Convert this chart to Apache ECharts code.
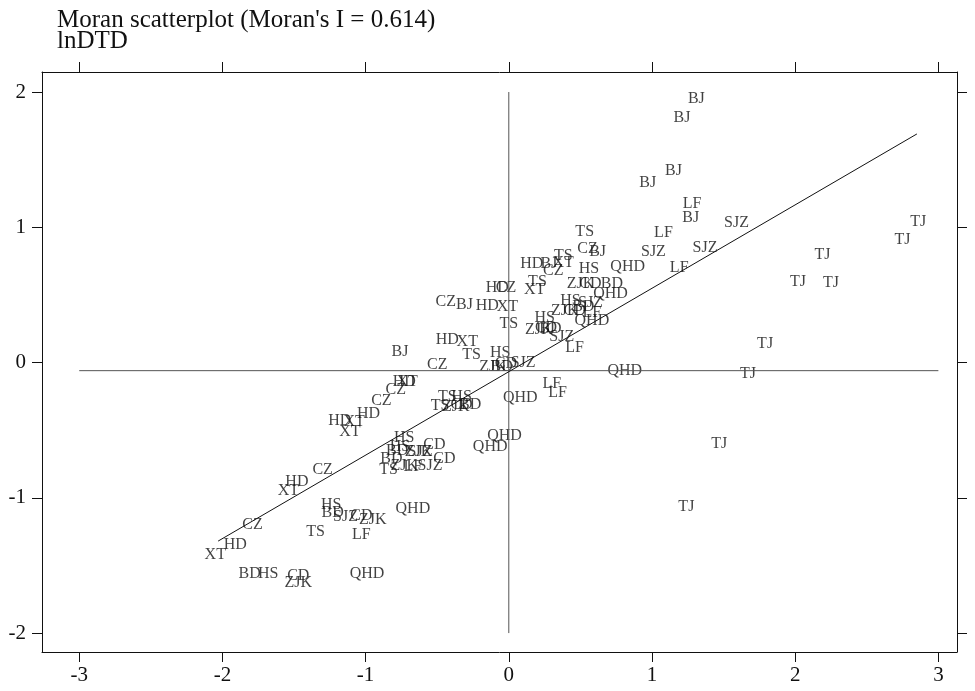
<!DOCTYPE html>
<html>
<head>
<meta charset="utf-8">
<script src="https://cdn.jsdelivr.net/npm/echarts@6/dist/echarts.min.js"></script>
<style>
html,body{margin:0;padding:0;background:#fff;}
#chart{width:975px;height:691px;}
</style>
</head>
<body>
<div id="chart"></div>
<script>
// Moran scatterplot: [standardized z, spatial lag Wz] per city, 9 years each
const BJ  = [[1.31,1.95],[1.21,1.81],[1.15,1.42],[0.97,1.33],[1.27,1.07],[0.62,0.82],[0.28,0.73],[-0.31,0.43],[-0.76,0.08]];
const TJ  = [[2.86,1.04],[2.75,0.91],[2.19,0.80],[2.02,0.60],[2.25,0.59],[1.79,0.14],[1.67,-0.08],[1.47,-0.60],[1.24,-1.07]];
const SJZ = [[1.59,1.03],[1.37,0.85],[1.01,0.82],[0.57,0.44],[0.37,0.19],[0.10,0.00],[-0.62,-0.66],[-0.55,-0.76],[-1.14,-1.14]];
const TS  = [[0.53,0.97],[0.38,0.79],[0.20,0.60],[0.00,0.29],[-0.26,0.06],[-0.43,-0.25],[-0.48,-0.32],[-0.84,-0.79],[-1.35,-1.25]];
const QHD = [[0.83,0.71],[0.71,0.51],[0.58,0.31],[0.81,-0.06],[0.08,-0.26],[-0.03,-0.54],[-0.13,-0.62],[-0.67,-1.08],[-0.99,-1.56]];
const HD  = [[0.16,0.73],[-0.08,0.55],[-0.15,0.42],[-0.43,0.17],[-0.73,-0.14],[-0.98,-0.38],[-1.18,-0.43],[-1.48,-0.88],[-1.91,-1.35]];
const XT  = [[0.38,0.74],[0.18,0.54],[-0.01,0.41],[-0.29,0.15],[-0.71,-0.14],[-1.08,-0.44],[-1.11,-0.51],[-1.54,-0.95],[-2.05,-1.42]];
const BD  = [[0.72,0.58],[0.52,0.41],[0.29,0.25],[-0.05,-0.03],[-0.27,-0.31],[-0.78,-0.65],[-0.82,-0.71],[-1.23,-1.11],[-1.81,-1.56]];
const ZJK = [[0.50,0.58],[0.39,0.38],[0.21,0.24],[-0.11,-0.03],[-0.37,-0.33],[-0.63,-0.66],[-0.73,-0.76],[-0.95,-1.16],[-1.47,-1.63]];
const CD  = [[0.57,0.58],[0.46,0.38],[0.26,0.26],[-0.02,-0.01],[-0.33,-0.31],[-0.52,-0.61],[-0.45,-0.71],[-1.03,-1.13],[-1.47,-1.58]];
const LF  = [[1.28,1.17],[1.08,0.96],[1.19,0.70],[0.58,0.37],[0.46,0.11],[0.30,-0.16],[0.34,-0.22],[-0.67,-0.77],[-1.03,-1.27]];
const CZ  = [[0.55,0.84],[0.31,0.68],[-0.02,0.55],[-0.44,0.45],[-0.50,-0.02],[-0.79,-0.20],[-0.89,-0.28],[-1.30,-0.79],[-1.79,-1.20]];
const HS  = [[0.56,0.69],[0.43,0.46],[0.25,0.33],[-0.06,0.07],[-0.33,-0.25],[-0.73,-0.56],[-0.76,-0.62],[-1.24,-1.05],[-1.68,-1.56]];

const cityNames = ['BJ','TJ','SJZ','TS','QHD','HD','XT','BD','ZJK','CD','LF','CZ','HS'];
const cityData  = [BJ, TJ, SJZ, TS, QHD, HD, XT, BD, ZJK, CD, LF, CZ, HS];

// reference lines and fitted line (Moran's I = slope)
const fitLine   = [[-2.03,-1.32],[2.85,1.69]];
const meanLagLine = [[-3,-0.06],[3,-0.06]];
const zeroLine  = [[0,-2],[0,2]];

const xTicks = [-3,-2,-1,0,1,2,3];
const yTicks = [-2,-1,0,1,2];
const titleText = "Moran scatterplot (Moran's I = 0.614)";
const subtitleText = "lnDTD";

const FONT = "'Liberation Serif','DejaVu Serif',serif";
const INK = '#111';

const chart = echarts.init(document.getElementById('chart'), null, {renderer:'canvas'});

const pts = [];
cityNames.forEach((c, i) => cityData[i].forEach(p => pts.push({name:c, value:p})));

function axisCommon(pos, ticks, showLabel, margin){
  return {
    type:'value', position:pos,
    axisLine:{show:true, onZero:false, lineStyle:{color:INK, width:1}},
    axisTick:{show:true, inside:false, length:10, customValues:ticks, lineStyle:{color:INK, width:1}},
    axisLabel:{show:showLabel, customValues:ticks, color:INK, fontFamily:FONT, fontSize:21, margin:margin},
    splitLine:{show:false}
  };
}

const option = {
  animation:false,
  backgroundColor:'#fff',
  title:{
    text: titleText + '\n' + subtitleText,
    left:52, top:5,
    textStyle:{fontFamily:FONT, fontSize:25, fontWeight:'normal', color:INK, lineHeight:21}
  },
  grid:{left:42, right:18, top:72, bottom:39, containLabel:false},
  xAxis:[
    Object.assign(axisCommon('bottom', xTicks, true, 13), {min:-3.26, max:3.13}),
    Object.assign(axisCommon('top', xTicks, false, 13), {min:-3.26, max:3.13})
  ],
  yAxis:[
    Object.assign(axisCommon('left', yTicks, true, 16), {min:-2.14, max:2.148}),
    Object.assign(axisCommon('right', yTicks, false, 16), {min:-2.14, max:2.148})
  ],
  series:[
    {type:'line', data:zeroLine, symbol:'none', silent:true,
     lineStyle:{color:'#555', width:1}},
    {type:'line', data:meanLagLine, symbol:'none', silent:true,
     lineStyle:{color:'#555', width:1}},
    {type:'line', data:fitLine, symbol:'none', silent:true,
     lineStyle:{color:INK, width:1}},
    {type:'scatter', data:pts, symbolSize:0, silent:true,
     label:{show:true, position:'inside', formatter:p=>p.name,
            fontFamily:FONT, fontSize:16, color:INK}}
  ]
};
chart.setOption(option);
</script>
</body>
</html>
